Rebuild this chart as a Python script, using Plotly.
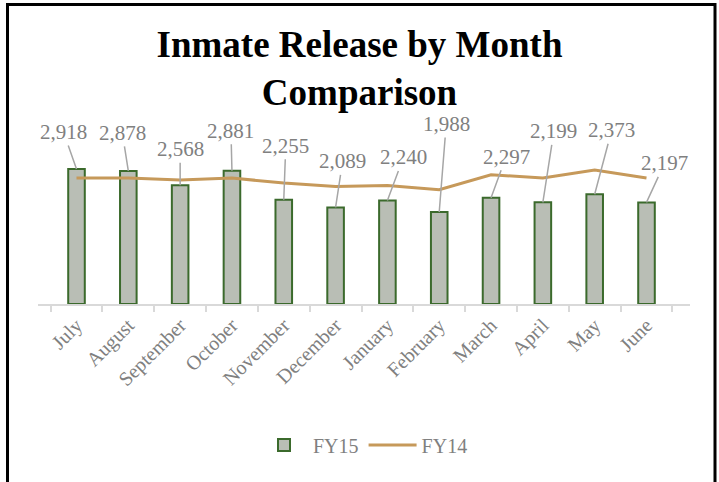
import plotly.graph_objects as go

months = ["July", "August", "September", "October", "November", "December",
          "January", "February", "March", "April", "May", "June"]
fy15 = [2918, 2878, 2568, 2881, 2255, 2089, 2240, 1988, 2297, 2199, 2373, 2197]
fy14 = [2723, 2725, 2680, 2723, 2615, 2542, 2563, 2470, 2795, 2723, 2896, 2723]

# label offsets (pixels, from bar top to label centre)
label_dx = [-13, -6, 0, -1, 2, 7, 16, 7, 15, 11, 17, 18]
label_dy = [-37, -38, -36, -40, -54, -46, -43, -88, -41, -71, -64, -39]

W, H = 719, 482
L, R, T, B = 38, 29, 119, 178
pw, ph = W - L - R, H - T - B

FONT = "Liberation Serif"
GRAY = "#808080"

fig = go.Figure()
fig.add_trace(go.Bar(
    x=months, y=fy15, name="FY15", width=0.32,
    marker=dict(color="#b9beb5", line=dict(color="#3b6a2c", width=2)),
))
fig.add_trace(go.Scatter(
    x=months, y=fy14, name="FY14", mode="lines",
    line=dict(color="#c6995a", width=3),
))

annotations = []
for m, v, dx, dy in zip(months, fy15, label_dx, label_dy):
    annotations.append(dict(
        x=m, y=v, xref="x", yref="y", text=f"{v:,}",
        showarrow=True, arrowhead=0, arrowwidth=1.5, arrowcolor="#a6a6a6",
        ax=dx, ay=dy, standoff=0,
        font=dict(family=FONT, size=21, color=GRAY),
    ))

fig.update_layout(
    width=W, height=H,
    margin=dict(l=L, r=R, t=T, b=B),
    paper_bgcolor="white", plot_bgcolor="white",
    title=dict(
        text="Inmate Release by Month<br>Comparison",
        font=dict(family=FONT, size=37, color="black", weight="bold"),
        x=0.5, xref="container", xanchor="center",
        y=1 - 57 / H, yref="container", yanchor="top",
    ),
    xaxis=dict(
        type="category", showgrid=False, showline=True, linecolor="#d9d9d9",
        linewidth=1.5, ticks="outside", tickson="boundaries", ticklen=6,
        tickcolor="#d9d9d9", tickwidth=1.5, tickangle=-45,
        tickfont=dict(family=FONT, size=20, color=GRAY),
    ),
    yaxis=dict(range=[0, 4000], visible=False),
    showlegend=True,
    legend=dict(
        orientation="h", x=0.5, xanchor="center", y=(304 - 445) / ph,
        yanchor="middle", font=dict(family=FONT, size=20, color=GRAY),
        itemwidth=48,
    ),
    annotations=annotations,
    shapes=[dict(
        type="rect", xref="paper", yref="paper",
        x0=(7.5 - L) / pw, x1=(715 - L) / pw,
        y0=(304 - 495) / ph, y1=(304 - 4.5) / ph,
        line=dict(color="black", width=3), fillcolor="rgba(0,0,0,0)",
        layer="below",
    )],
)

fig.write_html("out.html", config={"displayModeBar": False},
               post_script="document.body.style.margin='0px';")
